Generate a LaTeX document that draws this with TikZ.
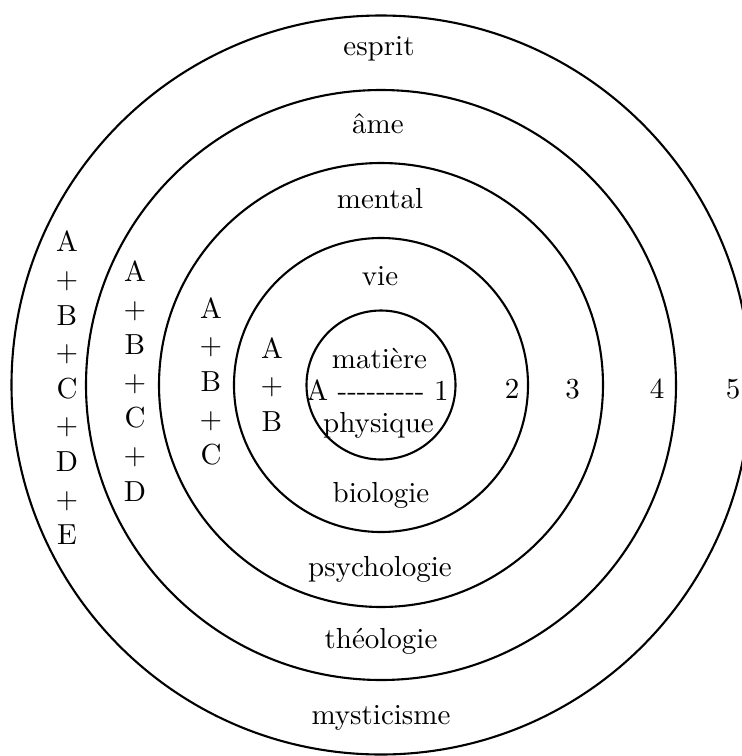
\documentclass[tikz,border=0pt]{standalone}
\usepackage{fontspec}
\setmainfont{lmroman10-regular.otf}
\newcommand\dsh{\mbox{-}}
\begin{document}
\begin{tikzpicture}[x=1pt,y=-1pt,
  ring/.style={draw, circle, line width=2.1pt, inner sep=0pt},
  lbl/.style={font=\fontsize{29}{36.6}\selectfont, inner sep=0pt, anchor=base},
  stack/.style={font=\fontsize{29}{36.6}\selectfont, inner sep=0pt, align=center}]
\useasboundingbox (0,0) rectangle (742,756);
\coordinate (O) at (381,385);
\node[ring, minimum size=149pt] (c1) at (O) {};
\node[ring, minimum size=294pt] (c2) at (O) {};
\node[ring, minimum size=444pt] (c3) at (O) {};
\node[ring, minimum size=590pt] (c4) at (O) {};
\node[ring, minimum size=739pt] (c5) at (O) {};
% ring labels
\node[lbl] (esprit) at (379,55) {esprit};
\node[lbl] (ame) at (378,133) {âme};
\node[lbl] (mental) at (380,208) {mental};
\node[lbl] (vie) at (380,285) {vie};
\node[lbl] (matiere) at (379.5,368) {matière};
\node[lbl] (a1) at (377.5,400) {A \dsh\dsh\dsh\dsh\dsh\dsh\dsh\dsh\dsh{} 1};
\node[lbl] (physique) at (378.5,432) {physique};
\node[lbl] (biologie) at (381,502) {biologie};
\node[lbl] (psycho) at (380,576) {psychologie};
\node[lbl] (theo) at (381,648) {théologie};
\node[lbl] (myst) at (381,724) {mysticisme};
% numbers
\node[lbl] (n2) at (512,398) {2};
\node[lbl] (n3) at (572.5,398) {3};
\node[lbl] (n4) at (657,398) {4};
\node[lbl] (n5) at (733,398) {5};
% stacks
\node[stack] (s5) at (67,388) {A\\+\\B\\+\\C\\+\\D\\+\\E};
\node[stack] (s4) at (135,381) {A\\+\\B\\+\\C\\+\\D};
\node[stack] (s3) at (211,381.5) {A\\+\\B\\+\\C};
\node[stack] (s2) at (272,384.5) {A\\+\\B};
\end{tikzpicture}
\end{document}
